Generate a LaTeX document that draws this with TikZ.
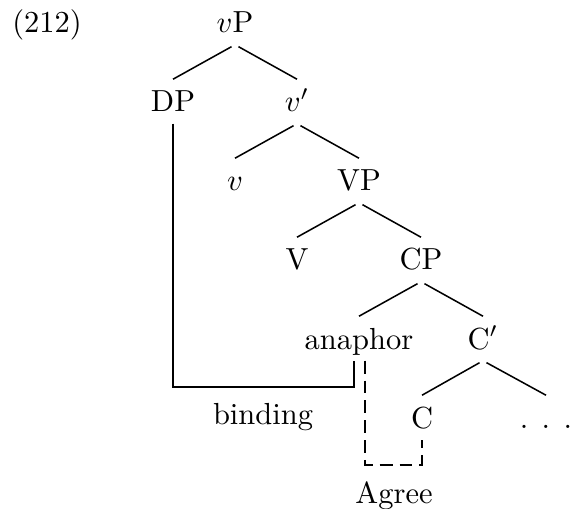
\documentclass[tikz,border=0pt]{standalone}

\tikzset{every picture/.style={line width=0.5pt}}
\tikzset{cat/.style={anchor=base, inner sep=0pt, text height=10.5pt, text depth=3.6pt}}
\tikzset{branch/.style={shorten <=1.3pt}}
\tikzset{agreeline/.style={dash pattern=on 4.2pt off 2.3pt}}

\begin{document}
\begin{tikzpicture}[x=0.328pt,y=0.328pt,yscale=-1,xscale=1]
\useasboundingbox (0,0) rectangle (573,508);

% Text Node
\node (ex) [anchor=base, inner sep=0pt] at (47,33) {(212)};
% Tree Nodes
\node (vP) [cat] at (235,33) {$v$P};
\node (DP) [cat] at (173,112) {DP};
\node (vbar) [cat] at (297,112) {$v'$};
\node (v) [cat] at (235,191) {$v$};
\node (VP) [cat] at (359,191) {VP};
\node (V) [cat] at (297,270) {V};
\node (CP) [cat] at (421,270) {CP};
\node (anaphor) [cat] at (359,349) {anaphor};
\node (Cbar) [cat] at (483,349) {C$'$};
\node (C) [cat] at (422,428) {C};
\node (dots) [cat] at (546,428) {.\hspace{4.4pt}.\hspace{4.4pt}.};

%Straight Lines
\draw [branch] (vP.south) -- (DP.north);
\draw [branch] (vP.south) -- (vbar.north);
\draw [branch] (vbar.south) -- (v.north);
\draw [branch] (vbar.south) -- (VP.north);
\draw [branch] (VP.south) -- (V.north);
\draw [branch] (VP.south) -- (CP.north);
\draw [branch] (CP.south) -- (anaphor.north);
\draw [branch] (CP.south) -- (Cbar.north);
\draw [branch] (Cbar.south) -- (C.north);
\draw [branch] (Cbar.south) -- (dots.north);

% binding
\coordinate (bindc) at (263,387);
\draw (DP.south) |- (bindc) -| ([xshift=-1.6pt]anaphor.south);
\node (binding) [anchor=base, inner sep=0pt] at (263,424) {binding};

% Agree
\coordinate (agreec) at (394,465);
\draw [agreeline] ([xshift=2pt]anaphor.south) |- (agreec) -| (C.south);
\node (Agree) [anchor=base, inner sep=0pt] at (394,503) {Agree};

\end{tikzpicture}
\end{document}
